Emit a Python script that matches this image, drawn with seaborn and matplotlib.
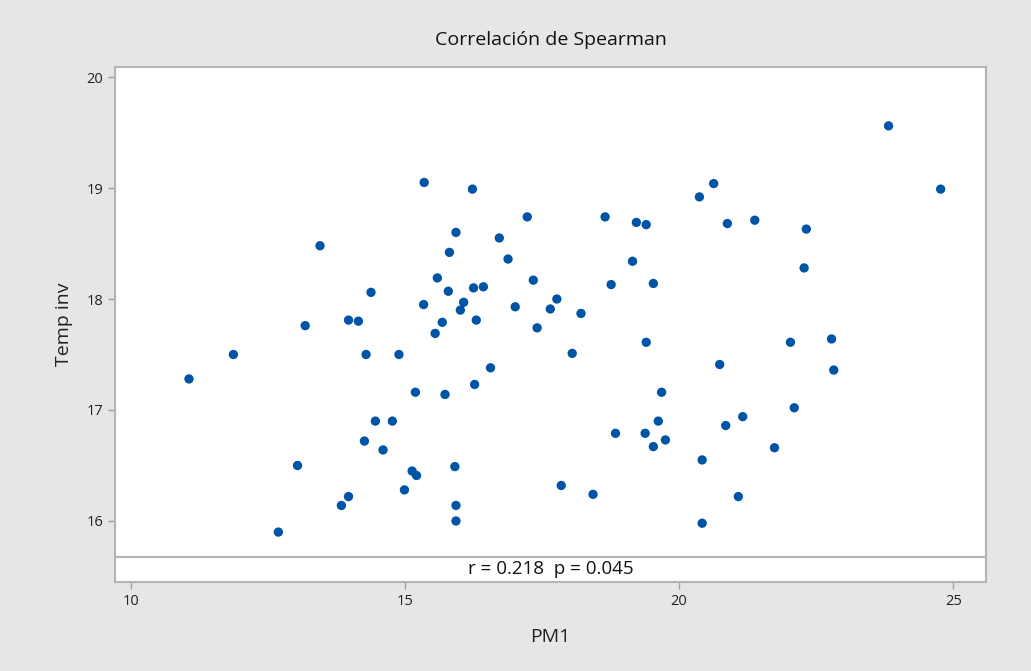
import matplotlib.pyplot as plt
import seaborn as sns
import pandas as pd

# valores
pm1 = [11.06, 11.87, 12.69, 13.04, 13.18, 13.45, 13.84, 13.97, 13.97, 14.15,
       14.26, 14.29, 14.38, 14.46, 14.60, 14.77, 14.89, 14.99, 15.13, 15.21,
       15.19, 15.34, 15.35, 15.55, 15.59, 15.68, 15.73, 15.79, 15.81, 15.91,
       15.93, 15.93, 15.93, 16.01, 16.07, 16.23, 16.25, 16.27, 16.30, 16.43,
       16.56, 16.72, 16.88, 17.01, 17.23, 17.34, 17.41, 17.65, 17.77, 17.85,
       18.05, 18.21, 18.43, 18.65, 18.76, 18.84, 19.15, 19.22, 19.38, 19.40,
       19.40, 19.53, 19.53, 19.62, 19.68, 19.75, 20.37, 20.42, 20.42, 20.63,
       20.74, 20.85, 20.88, 21.08, 21.16, 21.38, 21.74, 22.03, 22.10, 22.28,
       22.32, 22.78, 22.82, 23.82, 24.77]
temp_inv = [17.28, 17.50, 15.90, 16.50, 17.76, 18.48, 16.14, 16.22, 17.81, 17.80,
            16.72, 17.50, 18.06, 16.90, 16.64, 16.90, 17.50, 16.28, 16.45, 16.41,
            17.16, 17.95, 19.05, 17.69, 18.19, 17.79, 17.14, 18.07, 18.42, 16.49,
            16.14, 16.00, 18.60, 17.90, 17.97, 18.99, 18.10, 17.23, 17.81, 18.11,
            17.38, 18.55, 18.36, 17.93, 18.74, 18.17, 17.74, 17.91, 18.00, 16.32,
            17.51, 17.87, 16.24, 18.74, 18.13, 16.79, 18.34, 18.69, 16.79, 18.67,
            17.61, 18.14, 16.67, 16.90, 17.16, 16.73, 18.92, 16.55, 15.98, 19.04,
            17.41, 16.86, 18.68, 16.22, 16.94, 18.71, 16.66, 17.61, 17.02, 18.28,
            18.63, 17.64, 17.36, 19.56, 18.99]
x_ticks = [10, 15, 20, 25]
y_ticks = [16, 17, 18, 19, 20]
stats_text = "r = 0.218  p = 0.045"

df = pd.DataFrame({"PM1": pm1, "Temp inv": temp_inv})

sns.set_style("white")
plt.rcParams["font.family"] = ["Open Sans", "DejaVu Sans"]

fig = plt.figure(figsize=(10.31, 6.71), dpi=100, facecolor="#e6e6e6")
ax = fig.add_axes([0.1115, 0.1326, 0.845, 0.7675])
ax.set_facecolor("white")

sns.scatterplot(data=df, x="PM1", y="Temp inv", ax=ax, color="#0054a6",
                s=45, edgecolor="none", linewidth=0)

ax.set_xlim(9.71, 25.60)
ax.set_ylim(15.45, 20.09)
ax.set_xticks(x_ticks)
ax.set_yticks(y_ticks)

# banda inferior con el resultado
sep = 15.676
ax.axhline(sep, color="#b4b4b4", lw=1.5)
ax.text(0.5, (sep - 15.45) / (20.09 - 15.45) / 2, stats_text,
        transform=ax.transAxes, ha="center", va="center", fontsize=13.5,
        color="#111111")

for s in ax.spines.values():
    s.set_color("#b4b4b4")
    s.set_linewidth(1.5)

ax.tick_params(axis="both", which="major", direction="out", length=5,
               width=1, color="#a0a0a0", labelsize=10.5, labelcolor="#222222",
               bottom=True, left=True)

ax.set_title("Correlación de Spearman", fontsize=14, color="#111111", pad=16)
ax.set_xlabel("PM1", fontsize=14, color="#222222", labelpad=14)
ax.set_ylabel("Temp inv", fontsize=14, color="#222222", labelpad=10)

fig.savefig("out.png", dpi=100, facecolor=fig.get_facecolor())
